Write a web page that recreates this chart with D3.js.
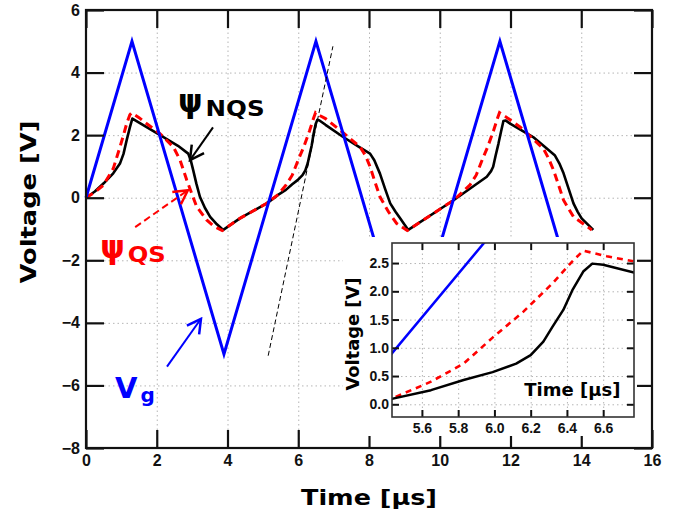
<!DOCTYPE html>
<html>
<head>
<meta charset="utf-8">
<script src="https://cdn.jsdelivr.net/npm/d3@7"></script>
<style>
body { margin: 0; background: #fff; }
svg { display: block; font-family: "DejaVu Sans", sans-serif; font-weight: bold; }
.grid line { stroke: #b5b5b5; stroke-dasharray: 1.5,3; stroke-width: 1; }
.grid path { display: none; }
.axis path { display: none; }
.axis line { stroke: #111; }
.axis text { fill: #111; }
</style>
</head>
<body>
<div id="canvas"></div>
<script>
// gate voltage, triangle wave
const vgTime = [0, 1.3, 3.9, 6.5, 9.1, 11.7, 14.3];
const vgVolt = [0, 5, -5, 5, -5, 5, -5];

// non quasi-static surface potential
const nqsTime = [0, 0.25, 0.5, 0.77, 0.96, 1.06, 1.15, 1.24, 1.31, 1.75, 2.19, 2.6, 2.89, 2.96, 3.03, 3.12, 3.22, 3.36, 3.51, 3.7, 3.88,
  4.35, 5.11, 5.44, 5.65, 5.83, 5.99, 6.12, 6.2, 6.27, 6.32, 6.38, 6.43, 6.49, 6.54, 6.6, 6.77, 7.27, 7.75, 8.03, 8.15, 8.31, 8.45, 8.6, 8.75, 8.88, 9.11,
  10.39, 11.33, 11.45, 11.51, 11.58, 11.66, 11.73, 11.8, 11.86, 12.0, 12.64, 13.0, 13.25, 13.38, 13.5, 13.64, 13.78, 13.9, 14.01, 14.34];
const nqsVolt = [0, 0.2, 0.46, 0.78, 1.09, 1.4, 1.84, 2.25, 2.53, 2.23, 1.94, 1.66, 1.41, 1.2, 0.88, 0.45, 0.03, -0.32, -0.61, -0.85, -1.03,
  -0.66, -0.18, 0.1, 0.25, 0.43, 0.57, 0.72, 0.87, 1.11, 1.37, 1.67, 2.02, 2.35, 2.49, 2.47, 2.33, 1.94, 1.6, 1.41, 1.2, 0.77, 0.3, -0.18, -0.45, -0.66, -1.03,
  -0.08, 0.67, 0.85, 0.99, 1.35, 1.73, 2.1, 2.45, 2.47, 2.36, 1.94, 1.6, 1.36, 1.1, 0.78, 0.3, -0.18, -0.45, -0.66, -1.03];

// quasi-static surface potential
const qsTime = [0, 0.25, 0.49, 0.77, 0.96, 1.06, 1.15, 1.24, 1.29, 1.5, 1.71, 2.09, 2.47, 2.66, 2.85, 3.0, 3.13, 3.41, 3.6, 3.85,
  4.35, 5.11, 5.44, 5.65, 5.83, 5.99, 6.16, 6.32, 6.43, 6.49, 6.62, 6.77, 7.18, 7.75, 7.9, 8.03, 8.17, 8.31, 8.55, 8.78, 9.08,
  10.39, 10.85, 11.03, 11.19, 11.36, 11.52, 11.63, 11.69, 11.85, 12.27, 12.93, 13.08, 13.22, 13.36, 13.5, 13.78, 14.3];
const qsVolt = [0, 0.18, 0.4, 0.93, 1.62, 2.0, 2.37, 2.65, 2.71, 2.56, 2.37, 2.05, 1.62, 1.2, 0.56, 0.1, -0.29, -0.71, -0.9, -1.05,
  -0.66, -0.18, 0.11, 0.4, 0.72, 1.18, 1.64, 2.14, 2.53, 2.72, 2.62, 2.53, 2.16, 1.62, 1.35, 0.99, 0.5, 0.03, -0.45, -0.82, -1.05,
  -0.08, 0.4, 0.72, 1.18, 1.64, 2.14, 2.53, 2.72, 2.6, 2.26, 1.57, 1.25, 0.87, 0.4, -0.08, -0.61, -1.03];

const xTicks = [0, 2, 4, 6, 8, 10, 12, 14, 16];
const yTicks = [-8, -6, -4, -2, 0, 2, 4, 6];
const insetXTicks = [5.6, 5.8, 6.0, 6.2, 6.4, 6.6];
const insetYTicks = [0, 0.5, 1.0, 1.5, 2.0, 2.5];

const zip = (ts, vs) => ts.map((t, i) => ({t: t, v: vs[i]}));
const vg = zip(vgTime, vgVolt);
const nqs = zip(nqsTime, nqsVolt);
const qs = zip(qsTime, qsVolt);

const width = 685;
const height = 516;
const margin = {top: 10, left: 86, bottom: 68, right: 33};
const iwidth = width - margin.left - margin.right;
const iheight = height - margin.top - margin.bottom;

const svg = d3.select("#canvas").append("svg")
  .attr("width", width)
  .attr("height", height);

const defs = svg.append("defs");
[["blk", "#000"], ["red", "#ff0000"], ["blu", "#0000ff"]].forEach(([id, c]) => {
  defs.append("marker")
    .attr("id", "arr-" + id)
    .attr("markerUnits", "userSpaceOnUse")
    .attr("markerWidth", 20).attr("markerHeight", 20)
    .attr("viewBox", "-14 -8 16 16")
    .attr("refX", 0).attr("refY", 0)
    .attr("orient", "auto")
    .append("path")
    .attr("d", "M-11,-6L0,0L-11,6")
    .attr("fill", "none")
    .attr("stroke", c)
    .attr("stroke-width", 2);
});

const graph = svg.append("g").attr("transform", `translate(${margin.left},${margin.top})`);

const x = d3.scaleLinear().domain([0, 16]).range([0, iwidth]);
const y = d3.scaleLinear().domain([-8, 6]).range([iheight, 0]);

// grid
graph.append("g").attr("class", "grid")
  .attr("transform", `translate(0,${iheight})`)
  .call(d3.axisBottom(x).tickValues(xTicks).tickSize(-iheight).tickFormat(""));
graph.append("g").attr("class", "grid")
  .call(d3.axisLeft(y).tickValues(yTicks).tickSize(-iwidth).tickFormat(""));

const line = d3.line().x(d => x(d.t)).y(d => y(d.v));

graph.append("path").datum(nqs).attr("d", line)
  .attr("fill", "none").attr("stroke", "#000").attr("stroke-width", 2.6).attr("stroke-linejoin", "round");
graph.append("path").datum(qs).attr("d", line)
  .attr("fill", "none").attr("stroke", "#ff0000").attr("stroke-width", 3).attr("stroke-dasharray", "8,5");
graph.append("path").datum(vg).attr("d", line)
  .attr("fill", "none").attr("stroke", "#0000ff").attr("stroke-width", 3);

// thin dashed slope guide
graph.append("path").datum([{t: 5.15, v: -5.05}, {t: 6.98, v: 4.84}]).attr("d", line)
  .attr("fill", "none").attr("stroke", "#000").attr("stroke-width", 1).attr("stroke-dasharray", "5,3");

// annotation arrows
function arrow(a, b, color, id, dash) {
  graph.append("path").datum([a, b]).attr("d", line)
    .attr("fill", "none").attr("stroke", color).attr("stroke-width", 2)
    .attr("stroke-dasharray", dash)
    .attr("marker-end", `url(#arr-${id})`);
}
arrow({t: 3.59, v: 2.25}, {t: 2.94, v: 1.2}, "#000", "blk", null);
arrow({t: 1.39, v: -0.94}, {t: 2.88, v: 0.24}, "#ff0000", "red", "7,4");
arrow({t: 2.29, v: -5.4}, {t: 3.25, v: -3.87}, "#0000ff", "blu", null);

function label(t, v, main, sub, color, mainSize, subSize, subLen) {
  const txt = graph.append("text").attr("x", x(t)).attr("y", y(v)).attr("fill", color);
  txt.append("tspan").attr("font-size", mainSize).text(main);
  const s = txt.append("tspan").attr("font-size", subSize).attr("dy", 4).attr("dx", 3).text(sub);
  if (subLen) s.attr("textLength", subLen).attr("lengthAdjust", "spacingAndGlyphs");
}
label(2.6, 2.75, "ψ", "NQS", "#000", 31, 21, 59);
label(0.4, -1.93, "ψ", "QS", "#ff0000", 31, 21, 38);
label(0.82, -6.39, "V", "g", "#0000ff", 29, 20, null);

// axes, inward ticks on every side
graph.append("g").attr("class", "axis")
  .attr("transform", `translate(0,${iheight})`)
  .call(d3.axisBottom(x).tickValues(xTicks).tickSize(-18).tickPadding(7))
  .call(g => g.selectAll("text").attr("font-size", 16));
graph.append("g").attr("class", "axis")
  .call(d3.axisLeft(y).tickValues(yTicks).tickSize(-18).tickPadding(6))
  .call(g => g.selectAll("text").attr("font-size", 16));
graph.append("g").attr("class", "axis")
  .call(d3.axisTop(x).tickValues(xTicks).tickSize(-18).tickFormat(""));
graph.append("g").attr("class", "axis")
  .attr("transform", `translate(${iwidth},0)`)
  .call(d3.axisRight(y).tickValues(yTicks).tickSize(-18).tickFormat(""));
graph.selectAll(".axis line").attr("stroke-width", 2.2);

graph.append("rect").attr("width", iwidth).attr("height", iheight)
  .attr("fill", "none").attr("stroke", "#111").attr("stroke-width", 2.2);

svg.append("text")
  .attr("x", margin.left + iwidth / 2).attr("y", 505)
  .attr("text-anchor", "middle").attr("font-size", 22)
  .attr("textLength", 136).attr("lengthAdjust", "spacingAndGlyphs")
  .text("Time [μs]");
svg.append("text")
  .attr("transform", `translate(36,${margin.top + 192}) rotate(-90)`)
  .attr("text-anchor", "middle").attr("font-size", 22)
  .attr("textLength", 163).attr("lengthAdjust", "spacingAndGlyphs")
  .text("Voltage [V]");

// inset
svg.append("rect").attr("x", 343).attr("y", 237).attr("width", 294).attr("height", 199).attr("fill", "#fff");

const ins = {left: 392, top: 243, right: 634, bottom: 417};
const iw = ins.right - ins.left;
const ih = ins.bottom - ins.top;
const inset = svg.append("g").attr("transform", `translate(${ins.left},${ins.top})`);
const xi = d3.scaleLinear().domain([5.435, 6.77]).range([0, iw]);
const yi = d3.scaleLinear().domain([-0.225, 2.855]).range([ih, 0]);

defs.append("clipPath").attr("id", "insclip")
  .append("rect").attr("width", iw).attr("height", ih);

inset.append("g").attr("class", "grid")
  .attr("transform", `translate(0,${ih})`)
  .call(d3.axisBottom(xi).tickValues(insetXTicks).tickSize(-ih).tickFormat(""));
inset.append("g").attr("class", "grid")
  .call(d3.axisLeft(yi).tickValues(insetYTicks).tickSize(-iw).tickFormat(""));

const lineI = d3.line().x(d => xi(d.t)).y(d => yi(d.v));
const plot = inset.append("g").attr("clip-path", "url(#insclip)");
plot.append("path").datum(vg).attr("d", lineI)
  .attr("fill", "none").attr("stroke", "#0000ff").attr("stroke-width", 2.5);
plot.append("path").datum(qs).attr("d", lineI)
  .attr("fill", "none").attr("stroke", "#ff0000").attr("stroke-width", 2.6).attr("stroke-dasharray", "6,5");
plot.append("path").datum(nqs).attr("d", lineI)
  .attr("fill", "none").attr("stroke", "#000").attr("stroke-width", 2.5).attr("stroke-linejoin", "round");

inset.append("g").attr("class", "axis")
  .attr("transform", `translate(0,${ih})`)
  .call(d3.axisBottom(xi).tickValues(insetXTicks).tickSize(-7).tickPadding(6).tickFormat(d3.format(".1f")))
  .call(g => g.selectAll("text").attr("font-size", 14).attr("fill", "#222"));
inset.append("g").attr("class", "axis")
  .call(d3.axisLeft(yi).tickValues(insetYTicks).tickSize(-7).tickPadding(3).tickFormat(d3.format(".1f")))
  .call(g => g.selectAll("text").attr("font-size", 14).attr("fill", "#222"));
inset.append("g").attr("class", "axis")
  .call(d3.axisTop(xi).tickValues(insetXTicks).tickSize(-7).tickFormat(""));
inset.append("g").attr("class", "axis")
  .attr("transform", `translate(${iw},0)`)
  .call(d3.axisRight(yi).tickValues(insetYTicks).tickSize(-7).tickFormat(""));
inset.selectAll(".axis line").attr("stroke-width", 2).attr("stroke", "#333");

inset.append("rect").attr("width", iw).attr("height", ih)
  .attr("fill", "none").attr("stroke", "#333").attr("stroke-width", 1.6);

inset.append("text")
  .attr("x", xi(6.43)).attr("y", yi(0.14))
  .attr("text-anchor", "middle").attr("font-size", 17)
  .attr("textLength", 96).attr("lengthAdjust", "spacingAndGlyphs")
  .text("Time [μs]");
inset.append("text")
  .attr("transform", `translate(-33,${ih / 2 + 4}) rotate(-90)`)
  .attr("text-anchor", "middle").attr("font-size", 17)
  .attr("textLength", 113).attr("lengthAdjust", "spacingAndGlyphs")
  .text("Voltage [V]");
</script>
</body>
</html>
